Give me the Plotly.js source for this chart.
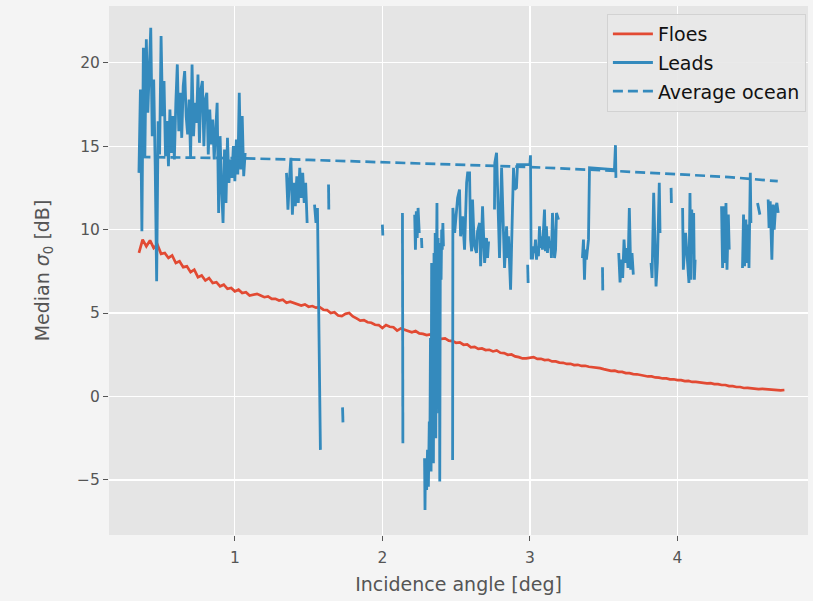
<!DOCTYPE html>
<html>
<head>
<meta charset="utf-8">
<script src="https://cdn.plot.ly/plotly-3.0.1.min.js"></script>
<style>html,body{margin:0;padding:0;background:#f4f4f4;}#chart{width:813px;height:601px;}</style>
</head>
<body>
<div id="chart"></div>
<script>
// ---- Floes (median sigma0 of ice floes) ----
const floesX = [0.350,0.375,0.400,0.425,0.450,0.475,0.500,0.525,0.550,0.575,0.600,0.625,0.650,0.675,0.700,0.725,0.750,0.775,0.800,0.825,0.850,0.875,0.900,0.925,0.950,0.975,
1.000,1.025,1.050,1.075,1.100,1.125,1.150,1.175,1.200,1.225,1.250,1.275,1.300,1.325,1.350,1.375,1.400,1.425,1.450,1.475,1.500,1.525,1.550,1.575,1.600,1.625,1.650,1.675,1.700,1.725,1.750,1.775,1.800,1.825,1.850,1.875,1.900,1.925,1.950,1.975,
2.000,2.025,2.050,2.075,2.100,2.125,2.150,2.175,2.200,2.225,2.250,2.275,2.300,2.325,2.350,2.375,2.400,2.425,2.450,2.475,2.500,2.525,2.550,2.575,2.600,2.625,2.650,2.675,2.700,2.725,2.750,2.775,2.800,2.825,2.850,2.875,2.900,2.925,2.950,2.975,
3.000,3.025,3.050,3.075,3.100,3.125,3.150,3.175,3.200,3.225,3.250,3.275,3.300,3.325,3.350,3.375,3.400,3.425,3.450,3.475,3.500,3.525,3.550,3.575,3.600,3.625,3.650,3.675,3.700,3.725,3.750,3.775,3.800,3.825,3.850,3.875,3.900,3.925,3.950,3.975,
4.000,4.025,4.050,4.075,4.100,4.125,4.150,4.175,4.200,4.225,4.250,4.275,4.300,4.325,4.350,4.375,4.400,4.425,4.450,4.475,4.500,4.525,4.550,4.575,4.600,4.625,4.650,4.675,4.700,4.725];
const floesY = [8.6,9.4,9.0,9.35,8.9,9.1,8.55,8.6,8.3,8.45,8.0,8.1,7.75,7.8,7.45,7.6,7.15,7.25,6.95,7.1,6.8,6.85,6.6,6.7,6.45,6.5,
6.3,6.4,6.2,6.25,6.05,6.1,6.15,6.05,5.95,6.0,5.85,5.85,5.75,5.8,5.62,5.68,5.6,5.55,5.45,5.52,5.38,5.42,5.32,5.35,5.2,5.18,5.0,5.05,4.85,4.82,4.95,5.0,4.8,4.68,4.55,4.58,4.45,4.42,4.3,4.28,
4.1,4.28,4.18,4.15,3.95,4.08,4.0,3.95,3.85,3.92,3.78,3.75,3.68,3.72,3.58,3.55,3.45,3.48,3.35,3.32,3.22,3.24,3.1,3.12,2.95,2.97,2.85,2.88,2.78,2.8,2.7,2.76,2.62,2.6,2.5,2.52,2.4,2.36,2.28,2.28,
2.33,2.36,2.25,2.26,2.18,2.2,2.1,2.1,2.03,2.02,1.95,1.96,1.88,1.9,1.83,1.84,1.78,1.76,1.7,1.7,1.64,1.6,1.54,1.55,1.48,1.47,1.4,1.4,1.34,1.33,1.28,1.27,1.2,1.2,1.14,1.13,1.08,1.08,1.03,1.03,
0.98,0.98,0.92,0.93,0.87,0.88,0.84,0.84,0.79,0.8,0.74,0.74,0.69,0.69,0.62,0.62,0.57,0.57,0.51,0.52,0.49,0.48,0.44,0.46,0.44,0.44,0.41,0.41,0.37,0.39];

// ---- Leads (null = gap) ----
const leadsX = [
0.35,0.36,0.37,0.38,0.39,0.40,0.41,0.42,0.43,0.44,0.45,0.46,0.47,0.48,0.49,0.50,0.51,0.52,0.53,0.54,0.55,0.56,0.57,0.58,0.59,0.60,0.61,0.62,0.63,0.64,0.65,0.66,0.67,0.68,0.69,0.70,0.71,0.72,0.73,0.74,0.75,0.76,0.77,0.78,0.79,0.80,0.81,0.82,0.83,0.84,0.85,0.86,0.87,0.88,0.89,0.90,0.91,0.92,0.93,0.94,0.95,0.96,0.97,0.98,0.99,1.00,1.01,1.02,1.03,1.04,1.05,1.06,1.07,null,
1.35,1.36,1.37,1.38,1.39,1.40,1.41,1.42,1.43,1.44,1.45,1.46,1.47,1.48,1.49,null,
1.54,1.55,1.56,1.57,1.572,1.574,1.58,null,
1.635,1.637,null,
1.730,1.733,null,
2.000,2.003,null,
2.136,2.139,null,
2.219,2.224,2.230,2.236,2.242,2.250,null,
2.265,2.268,null,
2.286,2.289,2.292,2.300,2.306,2.312,2.318,2.322,2.326,2.330,2.334,2.338,2.342,2.346,2.350,2.354,2.358,2.362,2.366,2.370,2.374,2.378,2.382,2.386,2.389,2.393,2.398,2.402,2.406,2.410,2.414,null,
2.476,2.478,2.490,2.503,2.510,2.523,2.530,2.544,2.557,2.571,2.578,2.591,2.598,2.605,2.611,2.618,2.625,2.638,2.645,2.659,2.666,2.679,2.686,2.693,2.706,2.713,2.720,null,
2.760,2.762,2.774,2.781,2.794,2.808,2.815,2.828,2.842,2.848,2.855,2.869,2.882,2.889,2.896,2.909,2.916,3.000,3.004,3.008,3.018,3.025,3.031,3.038,3.045,3.051,3.058,3.065,3.072,3.078,3.085,3.092,3.099,3.105,3.112,3.119,3.126,3.133,3.140,3.146,3.153,3.160,3.167,3.174,3.180,3.194,null,
2.985,2.988,null,
3.356,3.363,3.370,3.376,3.383,3.397,3.404,3.573,3.580,3.583,null,
3.492,3.494,null,
3.602,3.611,3.620,3.629,3.638,3.647,3.656,3.665,3.674,3.683,3.692,3.701,null,
3.821,3.828,3.839,3.848,3.855,3.864,3.877,3.882,null,
3.957,3.959,null,
4.035,4.040,4.055,4.070,4.078,4.085,4.092,4.097,4.102,4.110,4.115,4.120,null,
4.299,4.306,4.315,4.322,4.329,4.336,4.345,4.351,null,
4.441,4.448,4.455,4.464,4.471,4.478,4.485,4.492,4.494,4.498,null,
4.543,4.559,null,
4.615,4.621,4.629,4.636,4.640,4.649,4.656,4.665,4.674,4.683];
const leadsY = [
13.4,18.4,9.9,20.9,14.4,21.4,17.0,19.6,22.1,15.6,19.0,13.9,6.9,16.5,14.5,21.6,16.8,18.9,14.4,16.5,13.8,17.2,14.6,16.8,14.2,17.6,19.9,15.9,18.2,15.5,18.6,19.5,16.8,15.7,17.8,14.3,19.9,15.6,17.6,16.4,19.3,15.2,18.4,18.9,15.0,17.8,18.2,14.5,17.2,15.1,16.6,14.2,16.0,17.6,11.0,15.6,12.5,10.4,14.8,11.6,15.5,12.8,14.2,13.1,15.0,12.9,15.4,13.3,18.2,13.6,16.8,13.2,14.6,null,
13.4,11.2,13.0,14.3,10.9,12.8,11.4,13.2,11.6,13.7,11.9,13.4,11.6,12.8,10.4,null,
11.5,10.4,11.3,3.6,2.6,3.4,-3.2,null,
12.7,11.2,null,
-0.65,-1.55,null,
10.3,9.65,null,
11.0,-2.8,null,
10.9,8.8,11.1,9.5,11.3,9.8,null,
9.5,8.9,null,
-3.7,-6.8,-4.0,-5.6,-3.2,-5.4,-1.5,-3.0,3.5,-4.5,8.0,-2.0,4.0,-4.0,8.6,0.5,9.8,-2.5,7.0,11.6,3.0,9.5,-1.0,8.0,-5.1,9.2,7.0,10.0,8.8,10.4,9.0,null,
-3.8,11.3,9.8,11.3,11.9,12.4,9.6,10.8,8.8,12.8,13.4,13.4,9.4,8.7,11.8,10.2,9.0,8.6,9.9,10.4,7.8,11.4,9.2,8.0,9.5,8.3,9.3,null,
11.2,14.0,14.6,12.4,8.3,13.7,11.3,7.7,10.2,8.3,9.6,6.4,11.3,13.7,12.4,12.5,13.9,13.9,14.45,8.3,8.3,9.0,8.6,9.4,8.2,9.0,8.4,10.2,8.9,9.6,8.8,10.6,11.2,8.7,10.2,8.6,9.6,8.9,9.3,8.3,11.0,9.5,8.3,8.8,11.0,10.6,null,
7.9,6.8,null,
8.3,9.4,7.0,8.8,8.2,9.4,13.7,13.6,15.06,13.1,null,
7.74,6.36,null,
8.6,6.84,8.2,7.1,9.4,8.0,8.9,7.7,11.3,7.6,8.6,7.3,null,
8.0,7.1,12.2,7.6,6.6,8.0,12.8,9.8,null,
12.5,11.6,null,
11.3,7.6,9.8,8.0,6.8,12.2,7.0,11.2,9.0,11.0,7.0,8.2,null,
11.4,7.7,11.4,8.0,11.6,7.6,10.9,8.8,null,
7.7,10.9,7.8,10.6,8.0,10.3,7.7,10.8,13.4,10.4,null,
11.6,10.9,null,
11.8,10.1,11.7,9.8,8.2,11.5,10.0,11.3,11.6,11.0];

// ---- Average ocean ----
const oceanX = [0.36,1.0,1.5,2.0,2.5,3.0,3.5,4.0,4.35,4.68];
const oceanY = [14.35,14.28,14.18,14.04,13.9,13.75,13.55,13.33,13.15,12.9];

// ---- Axis ticks / labels ----
const xTickVals = [1,2,3,4];
const xTickText = ['1','2','3','4'];
const yTickVals = [-5,0,5,10,15,20];
const yTickText = ['\u22125','0','5','10','15','20'];
const seriesNames = ['Floes','Leads','Average ocean'];

const RED = '#E24A33', BLUE = '#348ABD', TXT = '#555555';
const FONT = 'DejaVu Sans, Liberation Sans, sans-serif';

const traces = [
  {x: floesX, y: floesY, type: 'scatter', mode: 'lines', name: seriesNames[0], legendgroup: 'a',
   line: {color: RED, width: 2.7}},
  {x: leadsX, y: leadsY, type: 'scatter', mode: 'lines', name: seriesNames[1], legendgroup: 'b',
   connectgaps: false, line: {color: BLUE, width: 2.8}},
  {x: oceanX, y: oceanY, type: 'scatter', mode: 'lines', name: seriesNames[2], legendgroup: 'c',
   line: {color: BLUE, width: 2.7, dash: '10px,5px'}}
];

const layout = {
  width: 813, height: 601,
  margin: {l: 109, r: 5, t: 6, b: 66},
  paper_bgcolor: '#f4f4f4',
  plot_bgcolor: '#e5e5e5',
  font: {family: FONT, color: TXT},
  showlegend: true,
  legend: {
    x: 0.997, xanchor: 'right', y: 0.985, yanchor: 'top',
    bgcolor: 'rgba(232,232,232,0.9)', bordercolor: '#d2d2d2', borderwidth: 1,
    font: {family: FONT, size: 19, color: '#111111'},
    tracegroupgap: 1, traceorder: 'grouped', itemwidth: 40
  },
  xaxis: {
    range: [0.147, 4.885],
    tickmode: 'array', tickvals: xTickVals, ticktext: xTickText,
    showgrid: true, gridcolor: '#ffffff', gridwidth: 1.3,
    zeroline: false, showline: false,
    ticks: 'outside', ticklen: 5, tickwidth: 1, tickcolor: TXT,
    ticklabelstandoff: 3,
    tickfont: {family: FONT, size: 15.5, color: TXT},
    title: {text: 'Incidence angle [deg]', font: {family: FONT, size: 19, color: TXT}, standoff: 12}
  },
  yaxis: {
    range: [-8.3, 23.4],
    tickmode: 'array', tickvals: yTickVals, ticktext: yTickText,
    showgrid: true, gridcolor: '#ffffff', gridwidth: 1.3,
    zeroline: false, showline: false,
    ticks: 'outside', ticklen: 5, tickwidth: 1, tickcolor: TXT,
    tickfont: {family: FONT, size: 15.5, color: TXT},
    title: {text: 'Median <i>σ</i><sub>0</sub> [dB]', font: {family: FONT, size: 19, color: TXT}, standoff: 22}
  }
};

Plotly.newPlot('chart', traces, layout, {displayModeBar: false, staticPlot: true});
</script>
</body>
</html>
